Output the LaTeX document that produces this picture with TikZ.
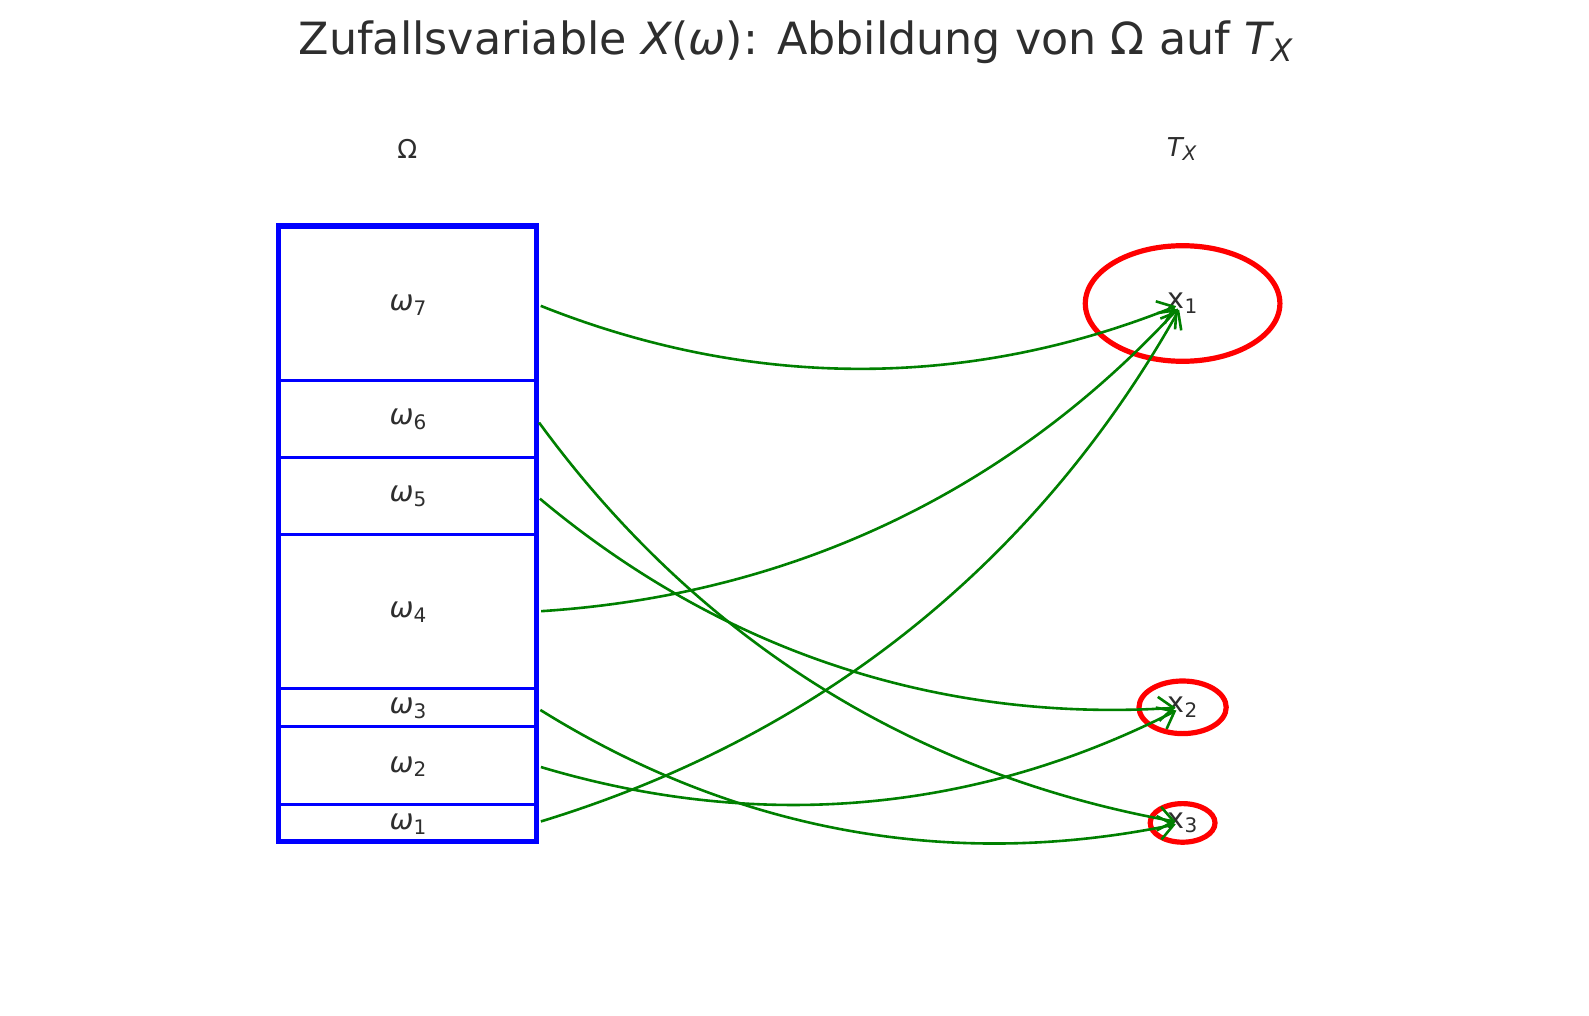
\documentclass[tikz,border=0pt]{standalone}
\usepackage{fontspec}
\setmainfont{DejaVu Sans}
\usetikzlibrary{arrows.meta,shapes.geometric}
\definecolor{txt}{HTML}{2E2E2E}
\definecolor{bblue}{HTML}{0000FF}
\definecolor{rred}{HTML}{FF0000}
\definecolor{ggreen}{HTML}{008000}
\newcommand{\LowSub}[2]{\raisebox{-0.3ex}{\fontsize{#1}{#1}\selectfont #2}}
\newcommand{\om}[1]{{\itshape ω}\LowSub{10}{#1}}
\newcommand{\xx}[1]{x\LowSub{10}{#1}}
\tikzset{
  lab/.style={text=txt, font=\fontsize{14.3}{17}\selectfont, inner sep=0pt},
  head/.style={text=txt, font=\fontsize{13}{16}\selectfont, inner sep=0pt},
  divider/.style={draw=bblue, line width=1.5pt},
  outerbox/.style={draw=bblue, line width=2.6pt},
  target/.style={ellipse, draw=rred, line width=2.6pt, inner sep=0pt, text=txt, font=\fontsize{14.3}{17}\selectfont},
  arr/.style={draw=ggreen, line width=1.3pt, shorten <=2.5pt, shorten >=3.5pt,
    -{Straight Barb[length=7.5pt,width=12pt]}, bend right=21.8, looseness=0.917},
}
\begin{document}
\begin{tikzpicture}[x=0.5pt,y=-0.5pt]
\useasboundingbox[fill=white] (0,0) rectangle (1589,1016);
% title
\node[text=txt, font=\fontsize{22.2}{27}\selectfont, inner sep=0pt] (title) at (795.5,42)
  {Zufallsvariable {\itshape X}({\itshape ω}): Abbildung von Ω auf {\itshape T}\LowSub{15.5}{\itshape X}};
\node[head] (omega) at (407.4,149) {Ω};
\node[head] (tx) at (1181.6,149) {{\itshape T}\LowSub{10}{\itshape X}};
% box
\draw[divider] (278.7,380.0) -- (536.1,380.0);
\draw[divider] (278.7,457.0) -- (536.1,457.0);
\draw[divider] (278.7,534.1) -- (536.1,534.1);
\draw[divider] (278.7,688.1) -- (536.1,688.1);
\draw[divider] (278.7,726.6) -- (536.1,726.6);
\draw[divider] (278.7,804.6) -- (536.1,804.6);
\draw[outerbox] (278.7,226.0) rectangle (536.1,841.1);
% labels
\node[lab] (w7) at (408,305.0) {\om{7}};
\node[lab] (w6) at (408,419.5) {\om{6}};
\node[lab] (w5) at (408,496.5) {\om{5}};
\node[lab] (w4) at (408,612.5) {\om{4}};
\node[lab] (w3) at (408,708.3) {\om{3}};
\node[lab] (w2) at (408,766.6) {\om{2}};
\node[lab] (w1) at (408,823.9) {\om{1}};
% arrow start points
\coordinate (s7) at (536.1,304.0);
\coordinate (s6) at (536.1,418.5);
\coordinate (s5) at (536.1,495.5);
\coordinate (s4) at (536.1,611.5);
\coordinate (s3) at (536.1,707.3);
\coordinate (s2) at (536.1,765.6);
\coordinate (s1) at (536.1,822.9);
% targets
\node[target, minimum width=97.3pt, minimum height=57.8pt] (e1) at (1182.6,303.5) {\xx{1}};
\node[target, minimum width=43.6pt, minimum height=26.3pt] (e2) at (1182.6,707.3) {\xx{2}};
\node[target, minimum width=32.4pt, minimum height=19.3pt] (e3) at (1182.6,822.9) {\xx{3}};
% arrows
\draw[arr] (s7) to (e1.center);
\draw[arr] (s6) to (e3.center);
\draw[arr] (s5) to (e2.center);
\draw[arr] (s4) to (e1.center);
\draw[arr] (s3) to (e3.center);
\draw[arr] (s2) to (e2.center);
\draw[arr] (s1) to (e1.center);
\end{tikzpicture}
\end{document}
